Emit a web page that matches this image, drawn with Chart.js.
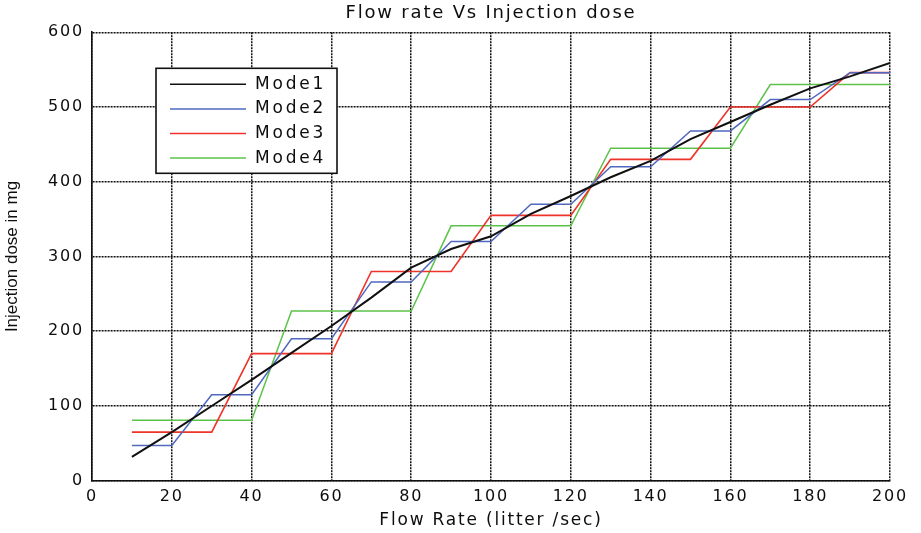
<!DOCTYPE html>
<html>
<head>
<meta charset="utf-8">
<script src="https://cdn.jsdelivr.net/npm/chart.js@4.4.1/dist/chart.umd.min.js"></script>
<style>
html,body{margin:0;padding:0;background:#fff;}
#wrap{position:relative;width:921px;height:533px;}
</style>
</head>
<body>
<div id="wrap"><canvas id="c"></canvas></div>
<script>
// ---- data ----
const flowRates = [10,20,30,40,50,60,70,80,90,100,110,120,130,140,150,160,170,180,190,200];
const mode1 = [32,65,100,135,171,207,245,285,310,327,357,381,406,428,457,480,503,525,541,559];
const mode2 = [47,47,115,115,190,190,266,266,320,320,370,370,420,420,468,468,510,510,546,546];
const mode3 = [65,65,65,170,170,170,280,280,280,355,355,355,430,430,430,500,500,500,546,546];
const mode4 = [81,81,81,81,227,227,227,227,341,341,341,341,445,445,445,445,530,530,530,530];
const seriesNames = ['Mode1','Mode2','Mode3','Mode4'];
const xTickValues = [0,20,40,60,80,100,120,140,160,180,200];
const yTickValues = [0,100,200,300,400,500,600];
const titleText = 'Flow rate Vs Injection dose';
const xTitle = 'Flow Rate (litter /sec)';
const yTitle = 'Injection dose in mg';

const WIDE = '"DejaVu Sans", "Liberation Sans", Arial, sans-serif';
const NARROW = '"Liberation Sans", Arial, sans-serif';
const TEXT = '#0d0d0d';
const LS = '1.8px';

const toPoints = arr => arr.map((v, i) => ({x: flowRates[i], y: v}));

// letter spacing to mimic the wide horizontal lettering; y title stays plain
const spacingPlugin = {
  id: 'spacing',
  beforeUpdate(chart) { chart.ctx.letterSpacing = LS; },
  afterLayout(chart) {
    const ys = chart.scales.y;
    if (ys && !ys._plainTitle) {
      const orig = ys.drawTitle;
      ys.drawTitle = function () {
        const c = this.ctx; const prev = c.letterSpacing;
        c.letterSpacing = '0px'; orig.call(this); c.letterSpacing = prev;
      };
      ys._plainTitle = true;
    }
  },
  beforeDraw(chart) { chart.ctx.letterSpacing = LS; }
};

const boxLegend = {
  id: 'boxLegend',
  afterDraw(chart, args, o) {
    const {ctx, chartArea} = chart;
    const x0 = chartArea.left + o.dx, y0 = chartArea.top + o.dy;
    ctx.save();
    ctx.setLineDash([]);
    ctx.fillStyle = '#fff';
    ctx.fillRect(x0, y0, o.w, o.h);
    ctx.lineWidth = 1.6; ctx.strokeStyle = '#111';
    ctx.strokeRect(x0, y0, o.w, o.h);
    chart.data.datasets.forEach((ds, i) => {
      const y = y0 + o.firstRow + i * o.rowGap;
      ctx.beginPath();
      ctx.moveTo(x0 + o.lineStart, y); ctx.lineTo(x0 + o.lineEnd, y);
      ctx.strokeStyle = ds.borderColor; ctx.lineWidth = 1.5; ctx.stroke();
      ctx.fillStyle = TEXT;
      ctx.font = '17px ' + WIDE;
      ctx.textBaseline = 'middle'; ctx.textAlign = 'left';
      ctx.letterSpacing = '2.8px';
      ctx.fillText(ds.label, x0 + o.textStart, y);
    });
    ctx.restore();
  }
};

const colors = ['#111111', '#5068c0', '#ee3328', '#5cc24a'];
const widths = [2, 1.5, 1.6, 1.5];
const seriesData = [mode1, mode2, mode3, mode4];

new Chart(document.getElementById('c'), {
  type: 'line',
  data: {
    datasets: seriesData.map((d, i) => ({
      label: seriesNames[i],
      data: toPoints(d),
      borderColor: colors[i],
      backgroundColor: colors[i],
      borderWidth: widths[i],
      pointRadius: 0,
      tension: 0,
      fill: false
    }))
  },
  options: {
    responsive: true,
    maintainAspectRatio: false,
    animation: false,
    events: [],
    layout: {padding: 0},
    plugins: {
      legend: {display: false},
      tooltip: {enabled: false},
      title: {
        display: true,
        text: titleText,
        fullSize: false,
        color: TEXT,
        font: {family: WIDE, size: 18, weight: 'normal'},
        padding: {top: 3, bottom: 7.7}
      },
      boxLegend: {dx: 64, dy: 36, w: 181, h: 105, firstRow: 16, rowGap: 24.6, lineStart: 14, lineEnd: 90, textStart: 99}
    },
    scales: {
      x: {
        type: 'linear',
        min: 0, max: 200,
        afterBuildTicks: s => { s.ticks = xTickValues.map(v => ({value: v})); },
        afterFit: s => { s.height = 52.3; s.paddingRight = 31; s.paddingLeft = 0; },
        grid: {color: '#111', lineWidth: 1.5, drawTicks: false},
        border: {display: true, color: '#111', width: 1.6, dash: [2, 1]},
        ticks: {color: TEXT, font: {family: WIDE, size: 16}, padding: 7, maxRotation: 0},
        title: {display: true, text: xTitle, color: TEXT, font: {family: WIDE, size: 17}, padding: {top: 0, bottom: 2}}
      },
      y: {
        type: 'linear',
        min: 0, max: 600,
        afterBuildTicks: s => { s.ticks = yTickValues.map(v => ({value: v})); },
        afterFit: s => { s.width = 92; },
        grid: {color: '#111', lineWidth: 1.5, drawTicks: false},
        border: {display: true, color: '#111', width: 1.6, dash: [2, 1]},
        ticks: {color: TEXT, font: {family: WIDE, size: 16}, padding: 8},
        title: {display: true, text: yTitle, color: TEXT, font: {family: NARROW, size: 17}, padding: {top: 2, bottom: 0}}
      }
    }
  },
  plugins: [spacingPlugin, boxLegend]
});
</script>
</body>
</html>
